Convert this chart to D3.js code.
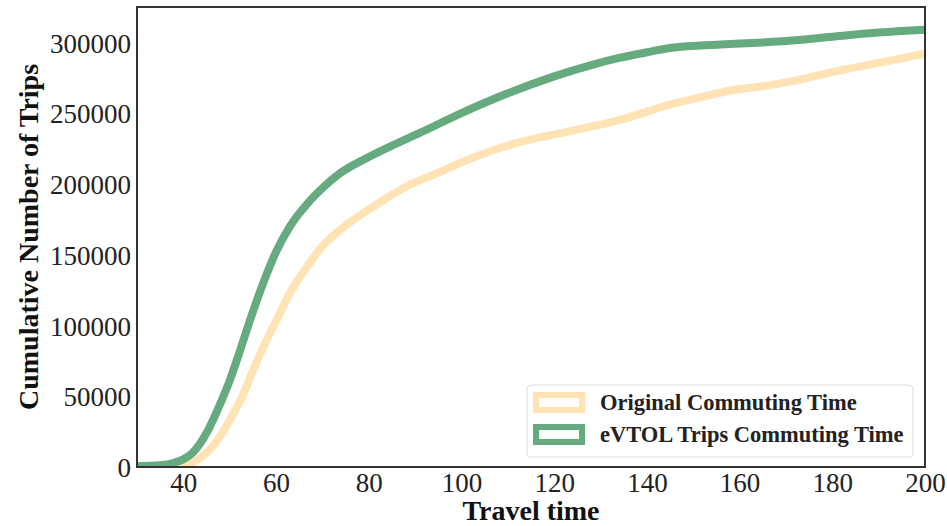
<!DOCTYPE html>
<html>
<head>
<meta charset="utf-8">
<script src="https://cdn.jsdelivr.net/npm/d3@7"></script>
<style>
  body { margin: 0; background: #fff; }
  svg { font-family: "Liberation Serif", "Times New Roman", serif; }
</style>
</head>
<body>
<svg id="chart" width="947" height="526"></svg>
<script>
// travel time (minutes) and cumulative trips
const origTime = [30, 38, 40, 42, 45, 48, 50, 53, 55, 57, 60, 63, 67, 70, 74, 81, 88, 95, 102, 112, 123, 134, 145, 152, 158, 165, 172, 180, 190, 200];
const originalTrips = [0, 0, 500, 3000, 10000, 22000, 33000, 52000, 68000, 83000, 103000, 123000, 143000, 156000, 168000, 184000, 198000, 208000, 218000, 229000, 237000, 245000, 256000, 261500, 266000, 269000, 273000, 279000, 285500, 292000];
const evtolTime = [30, 35, 38, 40, 42, 45, 48, 50, 52, 54, 57, 60, 63, 67, 70, 74, 80, 85, 91, 100, 110, 120, 128, 134, 140, 145, 150, 156, 165, 170, 180, 190, 200];
const evtolTrips = [500, 1200, 3000, 5500, 10000, 24000, 45000, 61000, 80000, 100000, 128000, 152000, 170000, 187000, 197000, 208000, 219000, 227000, 236000, 250000, 264000, 276000, 284000, 289000, 293000, 296000, 297500, 298500, 300000, 301000, 304000, 307000, 309000];
const xTicks = [40, 60, 80, 100, 120, 140, 160, 180, 200];
const yTicks = [0, 50000, 100000, 150000, 200000, 250000, 300000];
const seriesNames = ["Original Commuting Time", "eVTOL Trips Commuting Time"];
const seriesColors = ["#ffe3b5", "#66aa80"];

const svg = d3.select("#chart");
const margin = {left: 137, top: 7, right: 22, bottom: 59};
const width = 947 - margin.left - margin.right;
const height = 526 - margin.top - margin.bottom;

const x = d3.scaleLinear().domain([30, 200]).range([0, width]);
const y = d3.scaleLinear().domain([0, 325000]).range([height, 0]);

const g = svg.append("g").attr("transform", `translate(${margin.left},${margin.top})`);

g.append("defs").append("clipPath").attr("id", "clip")
  .append("rect").attr("width", width).attr("height", height);

function makeLine(times) {
  return d3.line()
    .x((d, i) => x(times[i]))
    .y(d => y(d))
    .curve(d3.curveMonotoneX);
}

const plot = g.append("g").attr("clip-path", "url(#clip)");
const series = [[origTime, originalTrips], [evtolTime, evtolTrips]];
series.forEach((s, k) => {
  plot.append("path")
    .datum(s[1])
    .attr("d", makeLine(s[0]))
    .attr("fill", "none")
    .attr("stroke", seriesColors[k])
    .attr("stroke-width", 8)
    .attr("stroke-linejoin", "round");
});

// axes, no tick marks
const xAxis = g.append("g").attr("transform", `translate(0,${height})`)
  .call(d3.axisBottom(x).tickValues(xTicks).tickSize(0).tickPadding(6));
const yAxis = g.append("g")
  .call(d3.axisLeft(y).tickValues(yTicks).tickFormat(d3.format("d")).tickSize(0).tickPadding(6));
[xAxis, yAxis].forEach(a => {
  a.select(".domain").remove();
  a.selectAll("text").attr("font-family", "Liberation Serif").attr("font-size", 27).attr("fill", "#222");
});
yAxis.selectAll("text").attr("dy", "0.36em");

// frame
g.append("rect")
  .attr("width", width).attr("height", height)
  .attr("fill", "none").attr("stroke", "#333").attr("stroke-width", 2);

// axis titles
svg.append("text")
  .attr("x", margin.left + width / 2).attr("y", 520)
  .attr("text-anchor", "middle")
  .attr("font-size", 28).attr("font-weight", "bold").attr("fill", "#111")
  .text("Travel time");
svg.append("text")
  .attr("transform", `translate(38,${margin.top + height / 2}) rotate(-90)`)
  .attr("text-anchor", "middle")
  .attr("font-size", 28).attr("font-weight", "bold").attr("fill", "#111")
  .text("Cumulative Number of Trips");

// legend
const legend = svg.append("g").attr("transform", "translate(527,385)");
legend.append("rect")
  .attr("width", 386).attr("height", 72).attr("rx", 4)
  .attr("fill", "#fff").attr("stroke", "#ddd").attr("stroke-width", 1);
seriesNames.forEach((name, k) => {
  const row = legend.append("g").attr("transform", `translate(0,${17.5 + k * 32})`);
  row.append("rect")
    .attr("x", 9).attr("y", -7.5).attr("width", 46).attr("height", 15)
    .attr("fill", "#fff").attr("stroke", seriesColors[k]).attr("stroke-width", 6);
  row.append("text")
    .attr("x", 73).attr("y", 0).attr("dy", "0.35em")
    .attr("font-size", 22.5).attr("font-weight", "bold").attr("fill", "#222")
    .text(name);
});
</script>
</body>
</html>
